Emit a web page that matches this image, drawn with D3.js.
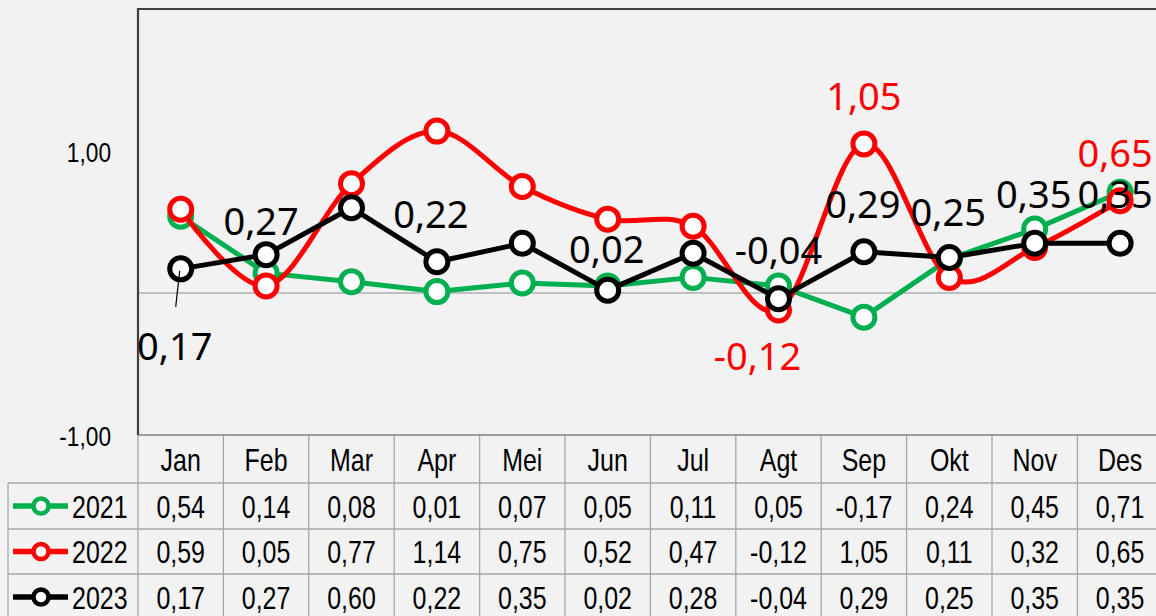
<!DOCTYPE html>
<html><head><meta charset="utf-8">
<script src="https://cdn.jsdelivr.net/npm/d3@7"></script>
<style>
html,body{margin:0;padding:0;background:#f2f2f2;}
svg{display:block;}
</style></head>
<body>
<svg id="c" width="1156" height="616"></svg>
<script>
const months = ["Jan","Feb","Mar","Apr","Mei","Jun","Jul","Agt","Sep","Okt","Nov","Des"];
const seriesNames = ["2021","2022","2023"];
const values2021 = [0.54,0.14,0.08,0.01,0.07,0.05,0.11,0.05,-0.17,0.24,0.45,0.71];
const values2022 = [0.59,0.05,0.77,1.14,0.75,0.52,0.47,-0.12,1.05,0.11,0.32,0.65];
const values2023 = [0.17,0.27,0.60,0.22,0.35,0.02,0.28,-0.04,0.29,0.25,0.35,0.35];
const yTicks = [-1, 1];

// layout / style config
const colors = ["#00b050","#ff0000","#000000"];
const smooth = [false,true,false];
const labelLayout = [
  [],
  [{i:7,dx:-21,dy:60},{i:8,dx:0,dy:-34},{i:11,dx:-5,dy:-34}],
  [{i:0,dx:-6,dy:91,leader:true},{i:1,dx:-5,dy:-20},{i:3,dx:-6,dy:-34},{i:5,dx:-1,dy:-27},
   {i:7,dx:0,dy:-35},{i:8,dx:-1,dy:-34},{i:9,dx:-1,dy:-32},{i:10,dx:-1,dy:-35},{i:11,dx:-5,dy:-35}]
];
const allValues = [values2021, values2022, values2023];

const svg = d3.select("#c");
const W = 1156, H = 616;
const plotL = 138, plotT = 9, plotB = 435;
const bandW = 85.4;
const rowEdges = [435, 483, 529, 574, 620];
const tableL = 8;
const narrow = "'Liberation Sans',Arial,sans-serif";
const NX = 0.78; // horizontal condensing for table text
const labelFont = "'Noto Sans','Open Sans',sans-serif";
const fmt = v => v.toFixed(2).replace(".", ",");

function ntext(g, tx, ty, str, size, anchor) {
  return g.append("text")
    .attr("transform", `translate(${tx},${ty}) scale(${NX},1)`)
    .attr("dy","0.36em").attr("text-anchor", anchor || "middle")
    .attr("font-family", narrow).attr("font-size", size).attr("fill","#000").text(str);
}

svg.append("rect").attr("width",W).attr("height",H).attr("fill","#f2f2f2");

const x = d3.scaleBand().domain(months).range([plotL, plotL + bandW*months.length]).padding(0);
const y = d3.scaleLinear().domain([-1, 2]).range([plotB, plotT]);
const cx = m => x(m) + x.bandwidth()/2;

// zero line
svg.append("line").attr("x1",plotL).attr("x2",W).attr("y1",y(0)).attr("y2",y(0))
  .attr("stroke","#8c8c8c").attr("stroke-width",1.2);

// y axis labels
const yAxis = d3.axisLeft(y).tickValues(yTicks).tickSize(0).tickFormat(fmt);
const ya = svg.append("g").attr("transform",`translate(${plotL-27},0)`).call(yAxis);
ya.select(".domain").remove();
ya.selectAll(".tick text").each(function() {
  d3.select(this).attr("x",0).attr("dy","0.36em").attr("font-family",narrow).attr("font-size",28)
   .attr("fill","#000").attr("text-anchor","end").attr("transform","scale(0.81,1)");
});

// table lines
const tbl = svg.append("g").attr("stroke","#a6a6a6").attr("stroke-width",1.3);
rowEdges.slice(1,4).forEach(ry => tbl.append("line").attr("x1",tableL).attr("x2",W).attr("y1",ry).attr("y2",ry));
tbl.append("line").attr("x1",tableL).attr("x2",tableL).attr("y1",rowEdges[1]).attr("y2",H);
months.forEach(m => {
  const xx = x(m);
  tbl.append("line").attr("x1",xx).attr("x2",xx).attr("y1",plotB).attr("y2",H);
});
// axis line at bottom of plot
svg.append("line").attr("x1",plotL).attr("x2",W).attr("y1",plotB).attr("y2",plotB)
  .attr("stroke","#7f7f7f").attr("stroke-width",1.5);
// plot border left/top
svg.append("path").attr("d",`M${plotL},${plotB}V${plotT}H${W}`)
  .attr("fill","none").attr("stroke","#404040").attr("stroke-width",2.2);

// header month labels
const hdr = svg.append("g");
months.forEach(m => ntext(hdr, cx(m), (rowEdges[0]+rowEdges[1])/2, m, 32));

// table rows
allValues.forEach((vals, s) => {
  const rc = (rowEdges[s+1]+rowEdges[s+2])/2;
  const g = svg.append("g");
  g.append("line").attr("x1",13).attr("x2",68).attr("y1",rc).attr("y2",rc)
    .attr("stroke",colors[s]).attr("stroke-width",5.5);
  g.append("circle").attr("cx",41).attr("cy",rc).attr("r",7.5)
    .attr("fill","#fff").attr("stroke",colors[s]).attr("stroke-width",4.5);
  ntext(g, 72, rc, seriesNames[s], 32, "start");
  vals.forEach((v,i) => ntext(g, cx(months[i]), rc, fmt(v), 32));
});

// series
allValues.forEach((vals, s) => {
  const g = svg.append("g");
  const line = d3.line().x((d,i) => cx(months[i])).y(d => y(d))
    .curve(smooth[s] ? d3.curveCatmullRom.alpha(0) : d3.curveLinear);
  g.append("path").datum(vals).attr("d", line).attr("fill","none")
    .attr("stroke", colors[s]).attr("stroke-width", 5).attr("stroke-linejoin","round");
  g.selectAll("circle").data(vals).join("circle")
    .attr("cx",(d,i) => cx(months[i])).attr("cy", d => y(d)).attr("r", 11)
    .attr("fill","#fff").attr("stroke",colors[s]).attr("stroke-width",5);
});

// data labels
allValues.forEach((vals, s) => {
  labelLayout[s].forEach(l => {
    const px = cx(months[l.i]), py = y(vals[l.i]);
    if (l.leader) {
      svg.append("line").attr("x1",px-1).attr("y1",py+2).attr("x2",px-5).attr("y2",py+38)
        .attr("stroke","#000").attr("stroke-width",1.2);
    }
    svg.append("text").attr("x",px + l.dx).attr("y",py + l.dy).attr("text-anchor","middle")
      .attr("font-family",labelFont).attr("font-size",38).attr("fill",colors[s])
      .text(fmt(vals[l.i]));
  });
});
</script>
</body></html>
